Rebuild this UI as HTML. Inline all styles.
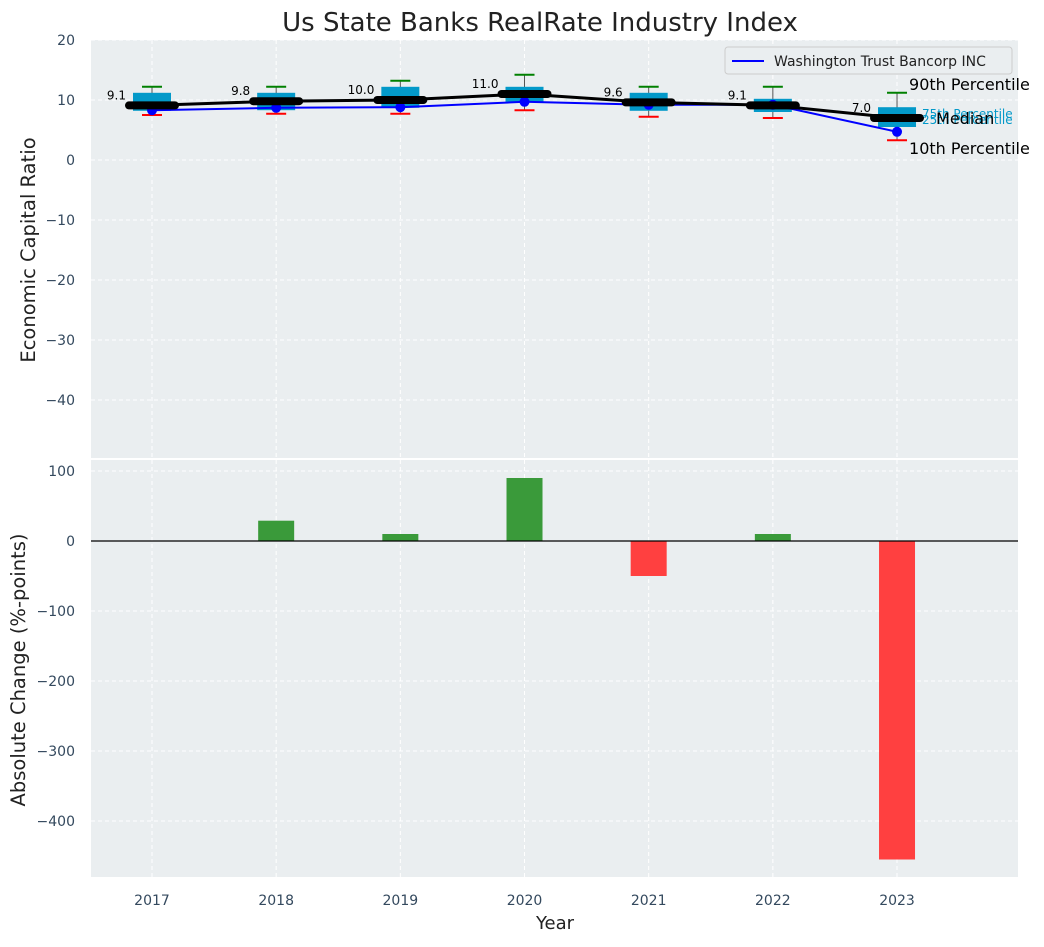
<!DOCTYPE html>
<html><head><meta charset="utf-8"><style>
body{margin:0;background:#fff;}
svg text{font-family:"DejaVu Sans","Liberation Sans",sans-serif;}
</style></head><body>
<svg id="chart" width="1044" height="942" xmlns="http://www.w3.org/2000/svg"></svg>
<script>
const years=[2017,2018,2019,2020,2021,2022,2023];
const p90=[12.2,12.2,13.2,14.2,12.2,12.2,11.2];
const p75=[11.2,11.2,12.2,12.2,11.2,10.2,8.8];
const medians=[9.1,9.8,10.0,11.0,9.6,9.1,7.0];
const p25=[8.2,8.3,8.7,9.7,8.2,8.0,5.5];
const p10=[7.5,7.7,7.7,8.3,7.2,7.0,3.3];
const company=[8.3,8.7,8.8,9.7,9.2,9.2,4.7];
const changes=[0,29,10,90,-50,10,-455];
const topTicks=[20,10,0,-10,-20,-30,-40];
const botTicks=[100,0,-100,-200,-300,-400];

const NS="http://www.w3.org/2000/svg";
const svg=document.getElementById('chart');
function el(tag,attrs,parent){const e=document.createElementNS(NS,tag);for(const k in attrs)e.setAttribute(k,attrs[k]);(parent||svg).appendChild(e);return e;}
const L=91,R=1018;
const x=v=>152+(v-2017)*124.17;
const T1=40,B1=458; const yT=v=>160-6*v;
const T2=460,B2=877; const yB=v=>541-0.7*v;

let e=el('rect',{x:L,y:T1,width:R-L,height:B1-T1,fill:'#eaeef0'});


e=el('rect',{x:L,y:T2,width:R-L,height:B2-T2,fill:'#eaeef0'});



years.forEach(yr=>{
  el('line',{x1:x(yr),x2:x(yr),y1:T1,y2:B1,stroke:'#fff','stroke-dasharray':'4,3','stroke-width':1});
  el('line',{x1:x(yr),x2:x(yr),y1:T2,y2:B2,stroke:'#fff','stroke-dasharray':'4,3','stroke-width':1});
  e=el('text',{x:x(yr),y:905,'text-anchor':'middle','font-size':14,fill:'#34495e'});e.textContent=yr;
  
  
});
topTicks.forEach(t=>{
  el('line',{x1:L,x2:R,y1:yT(t),y2:yT(t),stroke:'#fff','stroke-dasharray':'4,3'});
  e=el('text',{x:75,y:yT(t)+5,'text-anchor':'end','font-size':14,fill:'#34495e'});e.textContent=t<0?'\u2212'+(-t):t;
  
  
});
botTicks.forEach(t=>{
  el('line',{x1:L,x2:R,y1:yB(t),y2:yB(t),stroke:'#fff','stroke-dasharray':'4,3'});
  e=el('text',{x:75,y:yB(t)+5,'text-anchor':'end','font-size':14,fill:'#34495e'});e.textContent=t<0?'\u2212'+(-t):t;
  
  
});

years.forEach((yr,i)=>{
  const cx=x(yr);
  el('line',{x1:cx,x2:cx,y1:yT(p90[i]),y2:yT(p10[i]),stroke:'#555','stroke-width':1});
  e=el('rect',{x:cx-19,y:yT(p75[i]),width:38,height:yT(p25[i])-yT(p75[i]),fill:'#0399c9'});
  
  
  el('line',{x1:cx-10,x2:cx+10,y1:yT(p90[i]),y2:yT(p90[i]),stroke:'green','stroke-width':2});
  el('line',{x1:cx-10,x2:cx+10,y1:yT(p10[i]),y2:yT(p10[i]),stroke:'red','stroke-width':2});
});
e=el('polyline',{points:years.map((yr,i)=>x(yr)+','+yT(company[i])).join(' '),fill:'none',stroke:'blue','stroke-width':2});


years.forEach((yr,i)=>{e=el('circle',{cx:x(yr),cy:yT(company[i]),r:5,fill:'blue'});
  
  });
e=el('polyline',{points:years.map((yr,i)=>x(yr)+','+yT(medians[i])).join(' '),fill:'none',stroke:'#000','stroke-width':3});


years.forEach((yr,i)=>{
  const cx=x(yr);
  e=el('line',{x1:cx-23,x2:cx+23,y1:yT(medians[i]),y2:yT(medians[i]),stroke:'#000','stroke-width':8,'stroke-linecap':'round'});
  
  
  e=el('text',{x:cx-26,y:yT(medians[i])-6,'text-anchor':'end','font-size':12,fill:'#000'});e.textContent=medians[i].toFixed(1);
  
  
});
const lx=x(2023);
[['90th Percentile',lx+12,yT(p90[6])-3,16,'#000'],['10th Percentile',lx+12,yT(p10[6])+14,16,'#000'],
 ['75th Percentile',lx+25,yT(p75[6])+11,12,'#0399c9'],['25th Percentile',lx+25,yT(p25[6])-3,12,'#0399c9'],
 ['Median',lx+39,yT(medians[6])+6,16,'#000']].forEach(a=>{
  e=el('text',{x:a[1],y:a[2],'font-size':a[3],fill:a[4]});e.textContent=a[0];
  
  
});
const lg=el('g',{});


el('rect',{x:725,y:47,width:287,height:27,rx:3,fill:'#eaeef0',stroke:'#ccc'},lg);
el('line',{x1:732,x2:764,y1:61,y2:61,stroke:'blue','stroke-width':2},lg);
e=el('text',{x:774,y:66,'font-size':14,fill:'#222'},lg);e.textContent='Washington Trust Bancorp INC';

years.forEach((yr,i)=>{
  const v=changes[i]; if(v===0)return;
  const y0=yB(Math.max(v,0)),y1=yB(Math.min(v,0));
  e=el('rect',{x:x(yr)-18,y:y0,width:36,height:y1-y0,fill:v>0?'#3a9a3a':'#ff4040'});
  
  
});
el('line',{x1:L,x2:R,y1:yB(0),y2:yB(0),stroke:'#000','stroke-width':1.2});

e=el('text',{x:540,y:31,'text-anchor':'middle','font-size':26,fill:'#222'});e.textContent='Us State Banks RealRate Industry Index';


e=el('text',{x:555,y:929,'text-anchor':'middle','font-size':18,fill:'#222'});e.textContent='Year';


e=el('text',{x:0,y:0,'text-anchor':'middle','font-size':19.5,fill:'#222',transform:'translate(35,250) rotate(-90)'});e.textContent='Economic Capital Ratio';


e=el('text',{x:0,y:0,'text-anchor':'middle','font-size':19.5,fill:'#222',transform:'translate(25,670) rotate(-90)'});e.textContent='Absolute Change (%-points)';


</script>
</body></html>
